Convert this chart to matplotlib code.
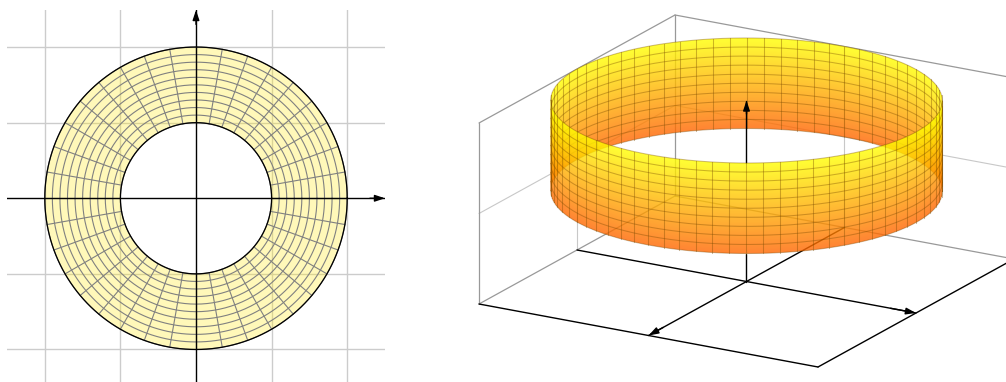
import numpy as np
import matplotlib
matplotlib.use("Agg")
import matplotlib.pyplot as plt
from matplotlib.colors import LinearSegmentedColormap

# ring mesh
radii = [1.0, 1.1, 1.2, 1.3, 1.4, 1.5, 1.6, 1.7, 1.8, 1.9, 2.0]
angles_deg = list(range(0, 361, 10))
grid_ticks = [-2, -1, 1, 2]

# 3d box
box_lo = -2
box_hi = 2
z_floor = 0
z_mid = 1
z_top = 2
ring_radius = 2
ring_angles_deg = list(range(-30, 331, 5))
ring_heights = [1.0, 1.1, 1.2, 1.3, 1.4, 1.5, 1.6, 1.7, 1.8, 1.9, 2.0]
front_from = -30
front_to = 150

W, H = 1006, 382
fig = plt.figure(figsize=(W / 100, H / 100), dpi=100)


def add_axes_px(x0, y0, x1, y1):
    return fig.add_axes([x0 / W, 1 - y1 / H, (x1 - x0) / W, (y1 - y0) / H])


def arrow(ax, start, end, lw=1.0, zorder=3):
    ax.annotate("", xy=end, xytext=start, annotation_clip=False, zorder=zorder,
                arrowprops=dict(arrowstyle="-|>,head_length=0.6,head_width=0.2",
                                color="black", lw=lw, shrinkA=0, shrinkB=0))


# left chart
ax = add_axes_px(7, 10, 385, 382)
ax.set_xlim(-2.5, 2.5)
ax.set_ylim(-2.43, 2.49)
for s in ax.spines.values():
    s.set_visible(False)
ax.set_xticks(grid_ticks)
ax.set_yticks(grid_ticks)
ax.tick_params(length=0, labelbottom=False, labelleft=False)
ax.grid(True, color="#cccccc", lw=1.0)
ax.set_axisbelow(True)

t = np.radians(np.linspace(0, 360, 361))
ax.fill(np.r_[2 * np.cos(t), np.cos(t)[::-1]], np.r_[2 * np.sin(t), np.sin(t)[::-1]],
        color="#ffe81a", alpha=0.3, lw=0)
for r in radii:
    ax.plot(r * np.cos(t), r * np.sin(t), color="#808080", lw=0.8)
for a in np.radians(angles_deg):
    ax.plot([np.cos(a), 2 * np.cos(a)], [np.sin(a), 2 * np.sin(a)], color="#808080", lw=0.8)
for r in [radii[0], radii[-1]]:
    ax.plot(r * np.cos(t), r * np.sin(t), color="black", lw=0.9)
ax.plot([-2.5, 2.5], [0, 0], color="black", lw=1.0)
ax.plot([0, 0], [-2.43, 2.49], color="black", lw=1.0)
arrow(ax, (2.3, 0), (2.5, 0))
arrow(ax, (0, 2.3), (0, 2.49))

# right chart, drawn in screen pixels through a fixed oblique projection
ox, oy = 746.5, 281.5
ex = (84.75, 15.75)
ey = (-49.0, 27.0)
ez = 90.5


def proj(x, y, z):
    x, y, z = np.asarray(x, float), np.asarray(y, float), np.asarray(z, float)
    return ox + x * ex[0] + y * ey[0], oy + x * ex[1] + y * ey[1] - z * ez


ax3 = add_axes_px(0, 0, W, H)
ax3.patch.set_alpha(0)


def line3(p, q, color="black", lw=1.0, zorder=2):
    xs, ys = proj(*np.array([p, q]).T)
    ax3.plot(xs, ys, color=color, lw=lw, zorder=zorder, solid_capstyle="round")


def arrow3(p, q, zorder=3):
    arrow(ax3, tuple(map(float, proj(*p))), tuple(map(float, proj(*q))), zorder=zorder)


lo, hi = box_lo, box_hi
# wall grid
for p, q in [((lo, lo, z_mid), (lo, hi, z_mid)), ((lo, lo, z_mid), (hi, lo, z_mid)),
             ((lo, 0, z_floor), (lo, 0, z_top)), ((0, lo, z_floor), (0, lo, z_top))]:
    line3(p, q, color="#c8c8c8", lw=0.8)
# back edges
for p, q in [((lo, hi, z_floor), (lo, hi, z_top)), ((lo, hi, z_top), (lo, lo, z_top)),
             ((lo, lo, z_top), (hi, lo, z_top)), ((lo, lo, z_floor), (lo, lo, z_top)),
             ((lo, hi, z_floor), (lo, lo, z_floor)), ((lo, lo, z_floor), (hi, lo, z_floor))]:
    line3(p, q, color="#999999", lw=0.9)
# front floor edges
line3((lo, hi, z_floor), (hi, hi, z_floor))
line3((hi, hi, z_floor), (hi, lo, z_floor))
# axes on the floor
line3((lo, 0, z_floor), (hi, 0, z_floor))
line3((0, lo, z_floor), (0, hi, z_floor))
arrow3((1.7, 0, 0), (2, 0, 0))
arrow3((0, 1.7, 0), (0, 2, 0))

cmap = LinearSegmentedColormap.from_list("ring", [(1, 0.40, 0), (1, 1, 0)])
px, py = np.meshgrid(np.arange(W) + 0.5, np.arange(H) + 0.5)


def draw_band(a0, a1, zorder, sign):
    # every pixel gets the height of the band point behind it, gouraud and
    # no-antialias fills both lose the alpha
    half = ring_radius * np.hypot(ex[0], ey[0])
    phase = np.arctan2(ey[0], ex[0])
    dx = (px - ox) / half
    th = sign * np.arccos(np.clip(dx, -1, 1)) + phase
    base_y = oy + ring_radius * (np.cos(th) * ex[1] + np.sin(th) * ey[1])
    z = (base_y - py) / ez
    z_lo, z_hi = ring_heights[0], ring_heights[-1]
    rgba = cmap(np.clip((z - z_lo) / (z_hi - z_lo), 0, 1))
    cover = np.clip((z - z_lo) * ez + 0.5, 0, 1) * np.clip((z_hi - z) * ez + 0.5, 0, 1)
    cover = cover * np.clip((1 - np.abs(dx)) * half + 0.5, 0, 1)
    rgba[..., 3] = 0.8 * cover
    ax3.imshow(rgba, extent=(0, W, H, 0), interpolation="nearest", aspect="auto", zorder=zorder)

    tt = np.radians(np.linspace(a0, a1, a1 - a0 + 1))
    cx, cy = ring_radius * np.cos(tt), ring_radius * np.sin(tt)
    for zz in ring_heights:
        xs, ys = proj(cx, cy, zz)
        ax3.plot(xs, ys, color="#7a4a00", alpha=0.38, lw=0.75, zorder=zorder + 0.1)
    for a in ring_angles_deg:
        if a0 <= a <= a1:
            ar = np.radians(a)
            xs, ys = proj([ring_radius * np.cos(ar)] * 2, [ring_radius * np.sin(ar)] * 2,
                          [z_lo, z_hi])
            ax3.plot(xs, ys, color="#7a4a00", alpha=0.38, lw=0.75, zorder=zorder + 0.1)


draw_band(front_to, front_from + 360, 3, -1)
# z axis is hidden where the front of the band passes it
front_y = ring_radius * (np.cos(np.radians(60)) * ex[1] + np.sin(np.radians(60)) * ey[1]) / ez
line3((0, 0, 0), (0, 0, ring_heights[0] - front_y), zorder=2)
line3((0, 0, ring_heights[-1] - front_y), (0, 0, 2), zorder=4)
arrow3((0, 0, 1.85), (0, 0, 2), zorder=4)
draw_band(front_from, front_to, 5, 1)

ax3.set_xlim(0, W)
ax3.set_ylim(H, 0)
ax3.axis("off")

fig.savefig("out.png", dpi=100)
